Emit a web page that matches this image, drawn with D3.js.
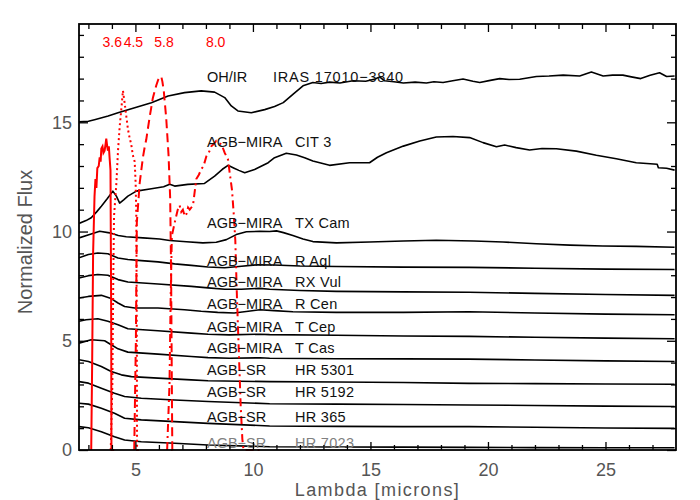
<!DOCTYPE html>
<html>
<head>
<meta charset="utf-8">
<script src="https://cdn.jsdelivr.net/npm/d3@7"></script>
<style>
html,body{margin:0;padding:0;background:#fff;}
svg{display:block;}
text{font-family:"Liberation Sans",Arial,sans-serif;}
</style>
</head>
<body>
<svg id="chart" width="700" height="500"></svg>
<script>
// ---------------- DATA ----------------
const spectraNames = [
  ["OH/IR", "IRAS 17010\u22123840"],
  ["AGB\u2212MIRA", "CIT 3"],
  ["AGB\u2212MIRA", "TX Cam"],
  ["AGB\u2212MIRA", "R Aql"],
  ["AGB\u2212MIRA", "RX Vul"],
  ["AGB\u2212MIRA", "R Cen"],
  ["AGB\u2212MIRA", "T Cep"],
  ["AGB\u2212MIRA", "T Cas"],
  ["AGB\u2212SR", "HR 5301"],
  ["AGB\u2212SR", "HR 5192"],
  ["AGB\u2212SR", "HR 365"],
  ["AGB\u2212SR", "HR 7023"]
];

const ohir = [[2.6,15.02],[3.0,15.05],[3.26,15.12],[3.84,15.29],[4.26,15.44],[4.97,15.67],[5.68,15.9],[6.39,16.2],[7.09,16.36],[7.8,16.44],[8.37,16.38],[8.8,16.13],[9.08,15.75],[9.36,15.52],[9.93,15.44],[10.5,15.58],[10.92,15.72],[11.29,15.9],[11.7,16.28],[12.13,16.67],[12.55,16.82],[12.9,16.78],[13.26,16.84],[13.7,16.8],[14.26,16.9],[14.8,16.88],[15.2,16.98],[15.39,17.08],[15.6,16.9],[16.0,16.86],[16.4,16.8],[16.9,16.84],[17.38,16.8],[17.7,16.86],[18.09,16.82],[18.5,16.9],[18.94,16.98],[19.36,16.88],[19.65,16.82],[20.1,16.92],[20.5,17.0],[20.9,16.96],[21.35,16.97],[22.06,17.1],[22.6,17.12],[23.2,17.16],[23.9,17.12],[24.4,17.3],[24.9,17.12],[25.3,17.16],[25.74,17.16],[26.1,17.08],[26.5,17.0],[26.9,17.15],[27.3,17.27],[27.6,17.1],[27.94,17.12]];
const cit3 = [[2.6,10.37],[2.9,10.5],[3.12,10.63],[3.35,10.9],[3.55,11.16],[3.8,11.5],[4.04,11.85],[4.19,11.62],[4.33,11.3],[4.5,11.45],[4.68,11.62],[5.04,11.85],[5.68,11.96],[6.2,12.05],[6.46,12.16],[6.67,12.08],[7.23,12.16],[7.94,12.2],[8.37,12.54],[8.7,12.85],[8.94,13.03],[9.2,12.9],[9.4,12.8],[9.65,12.69],[10.07,12.84],[10.65,13.15],[10.92,13.38],[11.42,13.58],[11.85,13.5],[12.2,13.38],[12.55,13.23],[13.26,13.03],[14.11,13.15],[14.96,13.15],[15.3,13.4],[15.68,13.61],[16.4,13.91],[17.1,14.14],[17.8,14.33],[18.51,14.35],[19.22,14.3],[19.79,14.07],[20.36,13.88],[20.71,13.96],[21.2,13.84],[21.77,13.73],[22.3,13.8],[22.91,13.79],[23.76,13.68],[24.61,13.49],[25.46,13.33],[26.31,13.15],[27.2,13.08],[27.25,12.92],[27.6,12.9],[27.94,12.81]];
const txcam = [[2.6,9.71],[3.05,9.86],[3.48,10.01],[3.9,9.94],[4.27,9.82],[4.61,9.76],[5.32,9.71],[6.03,9.66],[6.46,9.59],[7.17,9.53],[7.87,9.48],[8.44,9.51],[8.87,9.63],[9.29,9.86],[9.72,9.99],[10.29,10.01],[10.71,10.0],[11.0,10.03],[11.3,9.95],[11.7,9.82],[12.13,9.66],[12.55,9.54],[13.55,9.48],[14.96,9.52],[16.4,9.57],[17.8,9.6],[19.4,9.57],[20.64,9.52],[22.06,9.44],[23.48,9.38],[24.89,9.34],[26.31,9.32],[27.94,9.28]];
const raql = [[2.6,8.8],[3.0,8.95],[3.4,9.02],[3.83,8.98],[4.26,8.79],[4.68,8.72],[5.25,8.67],[5.96,8.61],[6.67,8.52],[7.38,8.45],[8.09,8.38],[8.8,8.34],[9.4,8.4],[10.2,8.48],[10.9,8.47],[12.0,8.42],[13.55,8.4],[16.4,8.37],[19.2,8.36],[22.0,8.32],[25.0,8.28],[27.94,8.26]];
const rxvul = [[2.6,7.87],[3.0,7.98],[3.4,8.03],[3.83,8.0],[4.26,7.8],[4.68,7.69],[5.96,7.6],[7.38,7.49],[8.09,7.42],[8.8,7.36],[9.5,7.36],[10.3,7.4],[10.71,7.36],[12.0,7.3],[13.55,7.26],[16.4,7.24],[19.2,7.22],[22.0,7.17],[25.0,7.12],[27.94,7.08]];
const rcen = [[2.6,6.96],[3.0,7.03],[3.55,7.08],[3.97,6.93],[4.26,6.73],[4.54,6.57],[4.97,6.5],[5.96,6.5],[7.09,6.42],[7.8,6.35],[8.5,6.3],[9.2,6.27],[9.8,6.35],[10.3,6.42],[10.9,6.38],[11.7,6.33],[13.55,6.3],[16.4,6.3],[19.2,6.33],[22.0,6.27],[25.0,6.22],[27.94,6.19]];
const tcep = [[2.6,5.89],[2.9,5.96],[3.4,6.01],[3.83,5.89],[4.26,5.73],[4.68,5.55],[5.96,5.46],[7.38,5.35],[8.09,5.3],[9.0,5.27],[10.3,5.3],[10.71,5.28],[13.55,5.25],[16.4,5.22],[19.2,5.2],[22.0,5.16],[25.0,5.12],[27.94,5.09]];
const tcas = [[2.6,4.89],[3.12,5.05],[3.69,5.0],[3.97,4.82],[4.26,4.63],[4.68,4.48],[5.96,4.39],[7.38,4.28],[8.09,4.23],[9.0,4.2],[10.3,4.22],[10.71,4.2],[13.55,4.18],[16.4,4.17],[19.2,4.16],[22.0,4.12],[25.0,4.08],[27.94,4.05]];
const hr5301 = [[2.6,4.13],[3.0,4.05],[3.55,3.82],[3.97,3.59],[4.4,3.44],[4.83,3.36],[5.96,3.29],[7.38,3.21],[8.09,3.17],[10.71,3.13],[13.55,3.11],[16.4,3.09],[19.2,3.05],[22.0,3.04],[25.0,3.02],[27.94,3.01]];
const hr5192 = [[2.6,3.13],[3.0,3.06],[3.55,2.83],[4.11,2.6],[4.54,2.45],[5.25,2.37],[6.67,2.29],[8.09,2.22],[10.71,2.12],[13.55,2.1],[16.4,2.08],[19.2,2.06],[22.0,2.04],[25.0,2.01],[27.94,1.99]];
const hr365 = [[2.6,2.14],[3.0,2.1],[3.55,1.91],[4.11,1.68],[4.54,1.45],[5.25,1.38],[6.67,1.3],[8.09,1.22],[10.71,1.1],[13.55,1.08],[16.4,1.07],[19.2,1.07],[22.0,1.04],[25.0,1.01],[27.94,0.99]];
const hr7023 = [[2.6,1.07],[3.0,1.02],[3.55,0.84],[4.11,0.61],[4.54,0.46],[5.25,0.38],[6.67,0.31],[8.09,0.23],[10.71,0.15],[13.55,0.14],[16.4,0.13],[19.2,0.12],[22.0,0.11],[25.0,0.1],[27.94,0.1]];

const spectra = [ohir, cit3, txcam, raql, rxvul, rcen, tcep, tcas, hr5301, hr5192, hr365, hr7023];

// IRAC filter responses (scaled)
const bandNames = ["3.6", "4.5", "5.8", "8.0"];
const bandCenters = [3.6, 4.5, 5.8, 8.0];
const band36 = [[3.12,0],[3.16,4],[3.2,9],[3.26,11.6],[3.3,12.4],[3.34,12.0],[3.38,12.9],[3.44,13.0],[3.48,13.4],[3.52,13.2],[3.55,13.8],[3.6,13.9],[3.64,13.6],[3.69,13.7],[3.73,14.0],[3.76,14.25],[3.8,13.9],[3.83,13.7],[3.87,13.9],[3.9,13.4],[3.94,12.8],[3.97,6],[3.98,0],[4.1,0]];
const band45 = [[3.95,0],[4.02,3],[4.06,8],[4.09,10.7],[4.19,12.2],[4.26,13.7],[4.33,14.8],[4.4,15.6],[4.47,16.45],[4.54,15.9],[4.61,15.3],[4.68,14.7],[4.75,14.3],[4.82,14.0],[4.89,13.5],[4.97,13.2],[5.01,12.2],[5.04,10.6],[5.06,5],[5.07,0],[5.2,0]];
const band58 = [[4.95,0],[5.02,5],[5.06,10.4],[5.18,12.2],[5.32,13.4],[5.4,13.9],[5.46,14.2],[5.6,15.2],[5.74,16.1],[5.89,16.7],[5.97,16.95],[6.03,17.05],[6.1,17.1],[6.15,16.85],[6.21,16.4],[6.31,15.2],[6.41,13.5],[6.48,11.5],[6.52,8],[6.55,3],[6.57,0],[6.7,0]];
const band80 = [[6.35,0],[6.45,3],[6.5,7],[6.55,9.8],[6.67,10.4],[6.8,11.0],[6.88,11.2],[6.95,10.9],[7.02,11.0],[7.1,10.7],[7.17,10.8],[7.24,11.1],[7.31,11.0],[7.45,11.2],[7.59,12.4],[7.7,12.6],[7.8,12.85],[7.9,13.0],[8.02,13.45],[8.12,13.6],[8.23,13.9],[8.33,14.0],[8.44,14.15],[8.55,14.05],[8.66,14.0],[8.8,13.6],[8.94,13.3],[9.01,12.7],[9.11,11.9],[9.19,10.7],[9.25,9.6],[9.32,7],[9.4,4.5],[9.48,2],[9.55,0.5],[9.6,0],[10.4,0]];
const bands = [band36, band45, band58, band80];

const xMajorTicks = [5, 10, 15, 20, 25];
const xMinorTicks = [3,4,6,7,8,9,11,12,13,14,16,17,18,19,21,22,23,24,26,27];
const yMajorTicks = [0, 5, 10, 15];
const yMinorTicks = [1,2,3,4,6,7,8,9,11,12,13,14,16,17,18,19];

// ---------------- LAYOUT / STYLE ----------------
const L = 79, R = 676, T = 24, B = 450;
const labelBaselines = [82, 147, 228, 266, 287, 309, 332, 353, 375, 397, 422, 448];
const labelX1 = 207, labelX2 = [273, 295];
const bandDash = [null, "2,3", "9,5", "8,4,2,4"];

const svg = d3.select("#chart");
const x = d3.scaleLinear().domain([2.6, 28]).range([L, R]);
const y = d3.scaleLinear().domain([0, 19.5]).range([B, T]);

svg.append("defs").append("clipPath").attr("id","clip")
  .append("rect").attr("x", L).attr("y", T).attr("width", R-L).attr("height", B-T+1);

const line = d3.line().x(d => x(d[0])).y(d => y(d[1]));
const plot = svg.append("g").attr("clip-path","url(#clip)");

plot.selectAll("path.spec").data(spectra).join("path")
  .attr("class","spec")
  .attr("d", line)
  .attr("fill","none").attr("stroke","#000").attr("stroke-width",1.6)
  .attr("stroke-linejoin","round");

plot.selectAll("path.band").data(bands).join("path")
  .attr("class","band")
  .attr("d", line)
  .attr("fill","none").attr("stroke","#ff0000").attr("stroke-width",2)
  .attr("stroke-dasharray", (d,i) => bandDash[i]);

const lab = svg.append("g").attr("font-size", 14.5);
spectraNames.forEach((nm, i) => {
  const col = i === 11 ? "#808080" : "#111";
  lab.append("text").attr("x", labelX1).attr("y", labelBaselines[i]).attr("fill", col).text(nm[0]);
  lab.append("text").attr("x", i === 0 ? labelX2[0] : labelX2[1]).attr("y", labelBaselines[i])
    .attr("letter-spacing", i === 0 ? 0.8 : 0.3).attr("fill", col).text(nm[1]);
});

svg.append("g").selectAll("text").data(bandNames).join("text")
  .attr("x", (d,i) => x(bandCenters[i])).attr("y", 47)
  .attr("fill","#ff0000").attr("font-size",14).text(d => d);

function styleAxis(g){ g.select(".domain").remove(); g.selectAll("line").attr("stroke","#000").attr("stroke-width",1.3); }
svg.append("g").attr("transform",`translate(0,${B})`)
  .call(d3.axisBottom(x).tickValues(xMajorTicks).tickSize(-8).tickPadding(13.5).tickFormat(d3.format("d")))
  .call(styleAxis)
  .call(g => g.selectAll("text").attr("font-size",18).attr("fill","#555").attr("font-family","Liberation Sans, Arial, sans-serif"));
svg.append("g").attr("transform",`translate(0,${B})`)
  .call(d3.axisBottom(x).tickValues(xMinorTicks).tickSize(-5).tickFormat(""))
  .call(styleAxis);
svg.append("g").attr("transform",`translate(0,${T})`)
  .call(d3.axisTop(x).tickValues(xMajorTicks).tickSize(-8).tickFormat(""))
  .call(styleAxis);
svg.append("g").attr("transform",`translate(0,${T})`)
  .call(d3.axisTop(x).tickValues(xMinorTicks).tickSize(-5).tickFormat(""))
  .call(styleAxis);
svg.append("g").attr("transform",`translate(${L},0)`)
  .call(d3.axisLeft(y).tickValues(yMajorTicks).tickSize(-9).tickPadding(7).tickFormat(d3.format("d")))
  .call(styleAxis)
  .call(g => g.selectAll("text").attr("font-size",18).attr("fill","#555").attr("font-family","Liberation Sans, Arial, sans-serif"));
svg.append("g").attr("transform",`translate(${L},0)`)
  .call(d3.axisLeft(y).tickValues(yMinorTicks).tickSize(-5).tickFormat(""))
  .call(styleAxis);
svg.append("g").attr("transform",`translate(${R},0)`)
  .call(d3.axisRight(y).tickValues(yMajorTicks).tickSize(-9).tickFormat(""))
  .call(styleAxis);
svg.append("g").attr("transform",`translate(${R},0)`)
  .call(d3.axisRight(y).tickValues(yMinorTicks).tickSize(-5).tickFormat(""))
  .call(styleAxis);

svg.append("rect").attr("x",L).attr("y",T).attr("width",R-L).attr("height",B-T)
  .attr("fill","none").attr("stroke","#000").attr("stroke-width",1.8);

svg.append("text").attr("transform",`translate(32,242) rotate(-90)`)
  .attr("text-anchor","middle").attr("font-size",20).attr("fill","#555").text("Normalized Flux");
svg.append("text").attr("x",(L+R)/2).attr("y",496.3)
  .attr("text-anchor","middle").attr("font-size",18).attr("letter-spacing",1.4)
  .attr("fill","#555").text("Lambda [microns]");
</script>
</body>
</html>
